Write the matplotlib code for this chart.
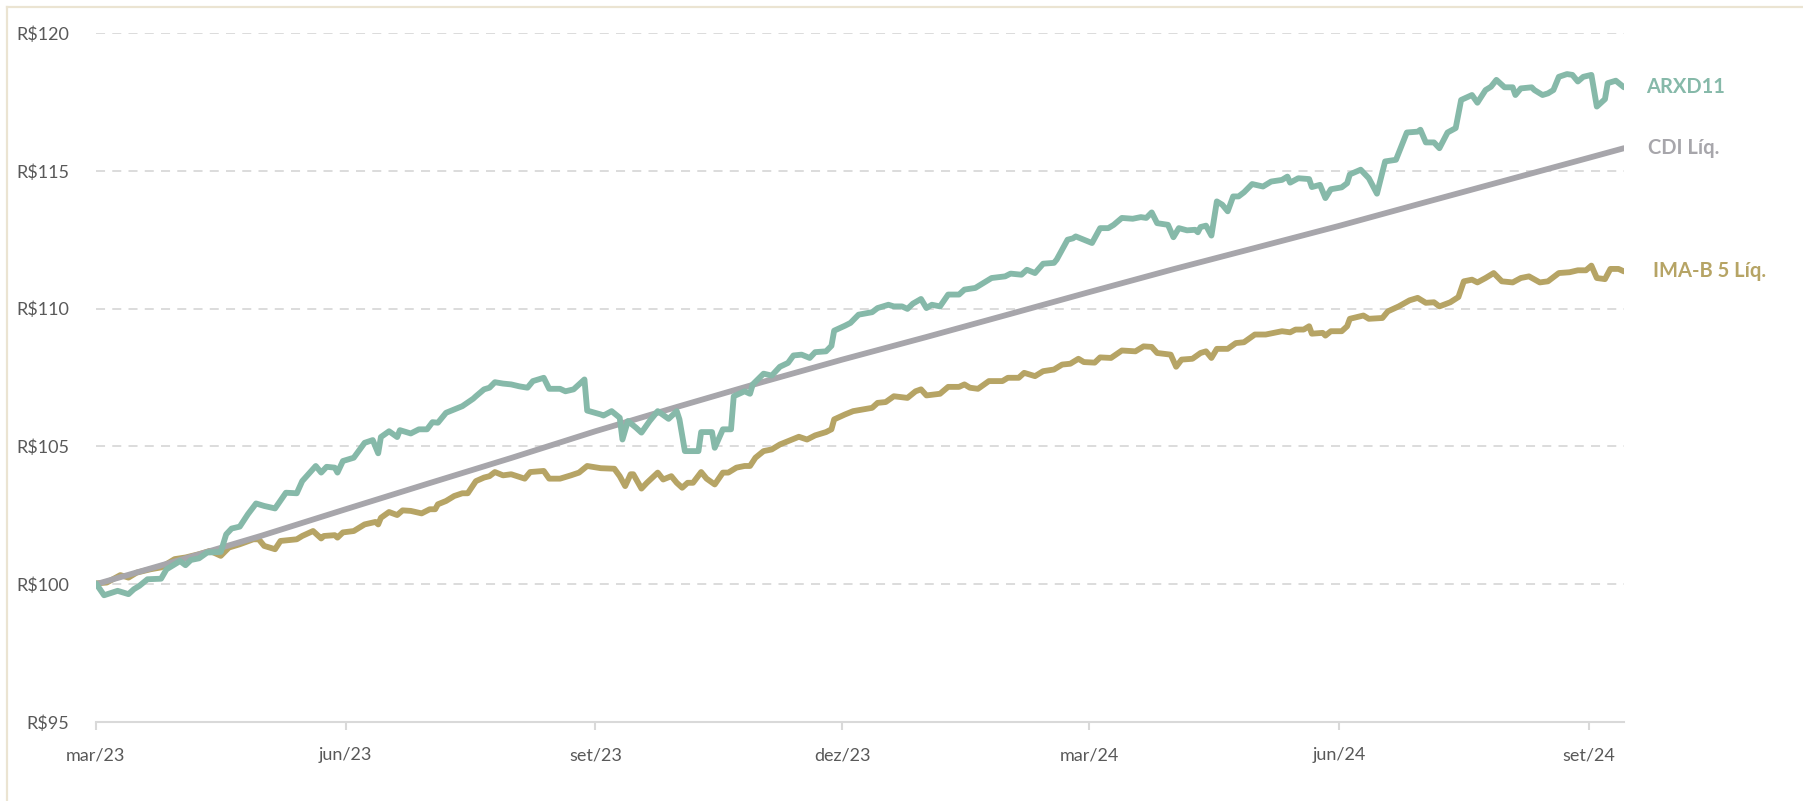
import matplotlib
matplotlib.use('Agg')
import matplotlib.pyplot as plt
from matplotlib.lines import Line2D
import pandas as pd

plt.rcParams['font.family'] = ['Lato', 'DejaVu Sans']

# dias corridos desde o início (01/03/2023) e cota acumulada (base R$100)
inicio = '2023-03-01'

arxd_dias = [0, 3, 8, 12, 14, 16, 19, 24, 26, 29, 31, 33, 35, 38, 41, 46, 48, 50, 53,
             56, 59, 62, 66, 70, 74, 76, 81, 83, 85, 88, 89, 91, 95, 99, 102, 104, 105,
             108, 111, 112, 116, 119, 122, 124, 126, 129, 132, 135, 139, 140, 143, 145,
             147, 150, 153, 156, 159, 161, 165, 167, 171, 173, 176, 180, 181, 186, 187,
             190, 193, 194, 196, 199, 201, 204, 207, 211, 214, 215, 217, 222, 223, 227,
             228, 231, 234, 235, 239, 241, 242, 246, 249, 252, 255, 257, 260, 263, 265,
             269, 271, 272, 276, 278, 281, 286, 288, 292, 294, 297, 299, 301, 304, 306,
             308, 311, 314, 318, 320, 324, 326, 330, 335, 337, 341, 343, 346, 349, 353,
             354, 358, 360, 361, 367, 370, 373, 375, 378, 382, 385, 387, 389, 391, 395,
             397, 399, 402, 405, 406, 407, 409, 411, 413, 415, 417, 419, 421, 423, 426,
             430, 433, 437, 439, 440, 443, 447, 448, 451, 453, 455, 459, 461, 462, 466,
             469, 472, 475, 479, 483, 487, 488, 490, 493, 495, 498, 501, 503, 507, 509,
             512, 514, 516, 519, 522, 523, 525, 529, 530, 533, 535, 537, 539, 542, 544,
             546, 548, 551, 553, 556, 557, 560, 563]
arxd_valores = [100.03, 99.60, 99.76, 99.64, 99.82, 99.94, 100.18, 100.20, 100.54, 100.72,
                100.84, 100.69, 100.88, 100.94, 101.15, 101.17, 101.81, 102.02, 102.09,
                102.54, 102.93, 102.84, 102.75, 103.32, 103.30, 103.74, 104.29, 104.05,
                104.26, 104.23, 104.05, 104.47, 104.59, 105.13, 105.23, 104.75, 105.34,
                105.55, 105.34, 105.59, 105.47, 105.62, 105.62, 105.88, 105.86, 106.22,
                106.34, 106.46, 106.73, 106.82, 107.07, 107.13, 107.33, 107.28, 107.25,
                107.18, 107.13, 107.37, 107.49, 107.09, 107.09, 107.00, 107.07, 107.43,
                106.30, 106.16, 106.12, 106.28, 106.04, 105.25, 105.92, 105.68, 105.50,
                105.92, 106.28, 106.00, 106.28, 105.98, 104.83, 104.83, 105.52, 105.52,
                104.95, 105.62, 105.62, 106.82, 107.00, 106.91, 107.25, 107.64, 107.57,
                107.89, 108.03, 108.30, 108.33, 108.21, 108.42, 108.45, 108.65, 109.20,
                109.38, 109.48, 109.78, 109.87, 110.02, 110.14, 110.08, 110.08, 109.99,
                110.18, 110.35, 110.02, 110.14, 110.08, 110.51, 110.51, 110.69, 110.75,
                110.87, 111.11, 111.17, 111.27, 111.23, 111.41, 111.29, 111.63, 111.66,
                111.78, 112.50, 112.55, 112.62, 112.38, 112.92, 112.92, 113.04, 113.29,
                113.26, 113.32, 113.29, 113.49, 113.10, 113.04, 112.59, 112.92, 112.84,
                112.86, 112.77, 112.96, 113.01, 112.65, 113.89, 113.77, 113.53, 114.07,
                114.07, 114.22, 114.52, 114.43, 114.61, 114.67, 114.79, 114.57, 114.73,
                114.70, 114.41, 114.49, 114.01, 114.33, 114.40, 114.55, 114.87, 115.04,
                114.73, 114.17, 115.34, 115.40, 116.39, 116.42, 116.49, 116.03, 116.03,
                115.82, 116.39, 116.55, 117.57, 117.75, 117.47, 117.93, 118.05, 118.30,
                118.03, 118.03, 117.75, 117.99, 118.03, 117.93, 117.75, 117.81, 117.93,
                118.41, 118.51, 118.48, 118.24, 118.41, 118.48, 117.33, 117.60, 118.18,
                118.27, 118.03]

cdi_dias = [0, 31, 61, 92, 122, 153, 184, 214, 245, 275, 306, 337, 366, 397, 427, 458,
            488, 519, 550, 563]
cdi_valores = [100.00, 100.88, 101.76, 102.72, 103.64, 104.58, 105.55, 106.43, 107.32,
               108.15, 108.97, 109.81, 110.60, 111.43, 112.20, 113.00, 113.81, 114.64,
               115.47, 115.82]

imab_dias = [0, 4, 9, 12, 15, 20, 24, 29, 33, 38, 42, 46, 49, 53, 58, 60, 62, 66, 68, 74,
             76, 80, 83, 84, 88, 89, 91, 95, 99, 103, 104, 105, 108, 111, 113, 116, 120,
             123, 125, 126, 129, 132, 135, 137, 140, 143, 145, 147, 150, 153, 158, 160,
             165, 167, 171, 175, 178, 181, 186, 191, 193, 195, 197, 198, 201, 203, 207,
             209, 212, 214, 216, 218, 220, 223, 225, 228, 231, 233, 236, 239, 241, 243,
             246, 249, 252, 255, 259, 262, 265, 269, 271, 272, 276, 279, 286, 288, 291,
             294, 299, 302, 304, 306, 311, 314, 318, 320, 322, 325, 329, 334, 336, 340,
             342, 346, 349, 353, 356, 359, 362, 364, 368, 370, 374, 378, 383, 386, 389,
             391, 396, 398, 400, 404, 407, 409, 411, 413, 417, 420, 423, 427, 431, 434,
             437, 440, 442, 445, 447, 448, 452, 453, 455, 459, 461, 462, 467, 469, 474,
             476, 480, 484, 487, 490, 493, 495, 499, 502, 504, 507, 509, 512, 515, 518,
             522, 525, 528, 532, 535, 539, 543, 546, 549, 551, 553, 556, 558, 561, 563]
imab_valores = [100.03, 100.06, 100.33, 100.24, 100.42, 100.54, 100.61, 100.91, 100.97,
                101.09, 101.21, 101.03, 101.33, 101.45, 101.63, 101.63, 101.39, 101.27,
                101.57, 101.63, 101.75, 101.93, 101.66, 101.75, 101.78, 101.69, 101.88,
                101.93, 102.17, 102.26, 102.17, 102.41, 102.62, 102.51, 102.68, 102.66,
                102.57, 102.72, 102.72, 102.90, 103.02, 103.20, 103.30, 103.30, 103.74,
                103.87, 103.92, 104.07, 103.95, 103.99, 103.83, 104.07, 104.11, 103.83,
                103.83, 103.95, 104.05, 104.29, 104.21, 104.19, 103.92, 103.56, 103.99,
                103.99, 103.47, 103.68, 104.05, 103.80, 103.92, 103.68, 103.50, 103.68,
                103.68, 104.07, 103.83, 103.62, 104.05, 104.05, 104.23, 104.29, 104.29,
                104.59, 104.83, 104.89, 105.07, 105.19, 105.35, 105.25, 105.40, 105.52,
                105.62, 105.98, 106.16, 106.28, 106.40, 106.58, 106.61, 106.82, 106.76,
                107.00, 107.07, 106.85, 106.91, 107.16, 107.16, 107.25, 107.13, 107.09,
                107.37, 107.37, 107.49, 107.49, 107.67, 107.55, 107.73, 107.79, 107.97,
                108.00, 108.18, 108.06, 108.04, 108.23, 108.21, 108.48, 108.45, 108.63,
                108.61, 108.39, 108.33, 107.89, 108.15, 108.18, 108.39, 108.45, 108.21,
                108.54, 108.54, 108.75, 108.78, 109.06, 109.06, 109.12, 109.18, 109.14,
                109.24, 109.24, 109.36, 109.09, 109.12, 109.02, 109.18, 109.18, 109.36,
                109.63, 109.75, 109.63, 109.66, 109.90, 110.08, 110.30, 110.39, 110.21,
                110.23, 110.08, 110.23, 110.42, 110.99, 111.05, 110.95, 111.11, 111.29,
                110.99, 110.95, 111.11, 111.17, 110.95, 110.99, 111.29, 111.32, 111.39,
                111.39, 111.56, 111.11, 111.07, 111.44, 111.44, 111.35]

series = ['ARXD11', 'CDI Líq.', 'IMA-B 5 Líq.']
cores = ['#86b9a9', '#a7a6ab', '#b6a465']

meses = ['mar/23', 'jun/23', 'set/23', 'dez/23', 'mar/24', 'jun/24', 'set/24']
y_ticks = [95, 100, 105, 110, 115, 120]


def to_dates(dias):
    return pd.Timestamp(inicio) + pd.to_timedelta(dias, unit='D')


fig = plt.figure(figsize=(18.03, 8.01), dpi=100)
ax = fig.add_axes([0.0532, 0.0986, 0.8475, 0.8602])

dados = [(arxd_dias, arxd_valores), (cdi_dias, cdi_valores), (imab_dias, imab_valores)]
offsets = [16, 17, 21]
# IMA-B embaixo, CDI no meio, ARXD11 por cima
for i in [2, 1, 0]:
    dias, vals = dados[i]
    datas = to_dates(dias)
    ax.plot(datas, vals, color=cores[i], lw=4.2, solid_joinstyle='round',
            solid_capstyle='round', zorder=3 + (2 - i))
    ax.annotate(series[i], xy=(datas[-1], vals[-1]), xytext=(offsets[i], 0),
                textcoords='offset points', va='center', ha='left',
                color=cores[i], fontsize=14.5, fontweight='bold')

ax.set_ylim(95, 120)
ax.set_xlim(to_dates([0])[0], to_dates([563])[0])
ax.set_yticks(y_ticks)
ax.set_yticklabels([f'R${v}' for v in y_ticks])
for v in y_ticks[1:]:
    ax.axhline(v, color='#d9d9d9', lw=1.3, ls=(0, (5, 4)), zorder=1)

ticks = pd.date_range('2023-03-01', periods=len(meses), freq='3MS')
ax.set_xticks(ticks)
ax.set_xticklabels(meses)

for s in ['left', 'top', 'right']:
    ax.spines[s].set_visible(False)
ax.spines['bottom'].set_color('#d9d9d9')
ax.spines['bottom'].set_linewidth(1.5)
ax.tick_params(axis='y', length=0, pad=19, labelsize=13, labelcolor='#595959')
ax.tick_params(axis='x', length=6, width=1.5, color='#d9d9d9', pad=12,
               labelsize=13, labelcolor='#595959')

# moldura bege do quadro
fig.add_artist(Line2D([7 / 1803, 7 / 1803], [0, 1 - 7 / 801], color='#ebe4d2', lw=1.6))
fig.add_artist(Line2D([7 / 1803, 1], [1 - 7 / 801, 1 - 7 / 801], color='#ebe4d2', lw=1.6))

fig.savefig('out.png', dpi=100)
